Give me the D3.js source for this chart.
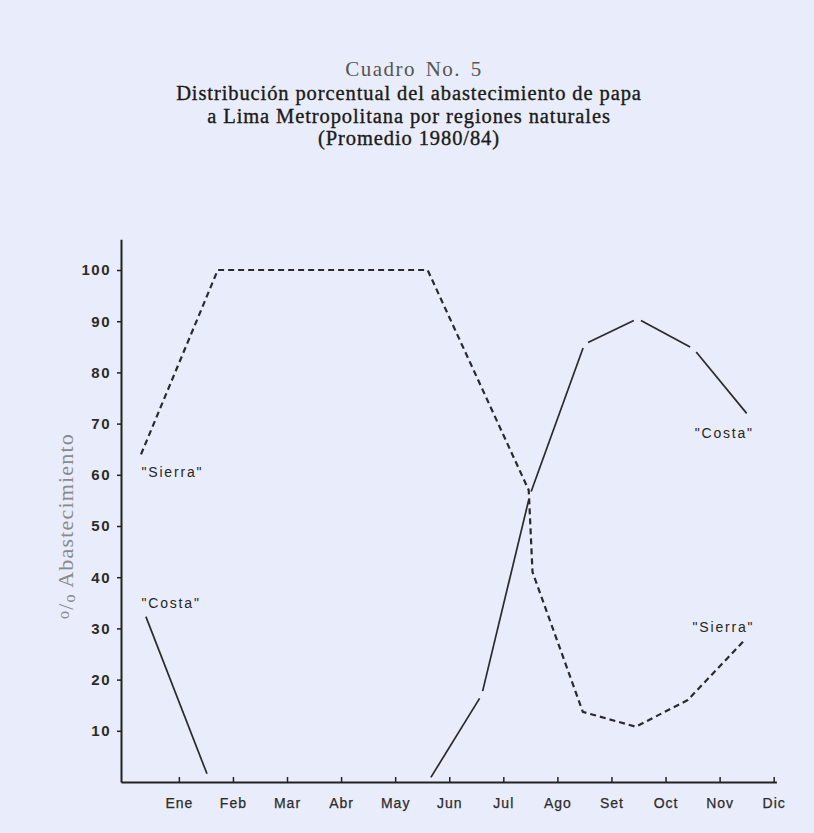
<!DOCTYPE html>
<html lang="es">
  <head>
    <meta charset="UTF-8" />
    <title>Cuadro No. 5</title>
    <script src="https://d3js.org/d3.v7.min.js"></script>
    <style>
      body { margin: 0; background: #e9ecfb; }
      svg { display: block; background: #e9ecfb; }
      .tick text { font-family: "Liberation Sans", Arial, sans-serif; fill: #2b2b2b; }
      .titulo { font-family: "Liberation Serif", "Times New Roman", serif; fill: #1a1a1a; }
      .nota { font-family: "Liberation Sans", Arial, sans-serif; font-size: 14px; fill: #262626; letter-spacing: 1.8px; }
    </style>
  </head>
  <body>
    <svg id="chart" width="814" height="833"></svg>
    <script>
      // month ticks
      const meses = ["Ene", "Feb", "Mar", "Abr", "May", "Jun", "Jul", "Ago", "Set", "Oct", "Nov", "Dic"];
      const yTicks = [10, 20, 30, 40, 50, 60, 70, 80, 90, 100];

      // "Sierra" (dashed): position in months (Ene tick = 1) and percent
      const sierraMes = [0.3, 1.72, 5.6, 7.47, 7.54, 8.47, 9.45, 10.41, 11.46];
      const sierraPct = [64, 100, 100, 57, 41, 13.7, 10.8, 16, 27.7];

      // "Costa" (solid, broken at vertices); null = no line drawn
      const costaMes = [0.39, 1.52, null, 5.66, 6.6, 7.49, 8.5, 9.48, 10.52, 11.5];
      const costaPct = [32.3, 1.6, null, 0.9, 17, 56, 85.5, 90.5, 84.6, 72];

      const notas = [
        { text: "\"Sierra\"", mes: 0.31, pct: 60.5 },
        { text: "\"Costa\"", mes: 0.31, pct: 35 },
        { text: "\"Costa\"", mes: 10.54, pct: 68.2 },
        { text: "\"Sierra\"", mes: 10.5, pct: 30.3 }
      ];

      const titulo = [
        "Distribución porcentual del abastecimiento de papa",
        "a Lima Metropolitana por regiones naturales",
        "(Promedio 1980/84)"
      ];

      const svg = d3.select("#chart");
      const x = d3.scaleLinear().domain([-0.07, 12.05]).range([121, 776.4]);
      const y = d3.scaleLinear().domain([0, 106]).range([782, 239.3]);

      // titles
      svg.append("text").attr("class", "titulo")
        .attr("x", 414).attr("y", 76)
        .attr("text-anchor", "middle")
        .style("font-size", "21px").style("fill", "#555").style("letter-spacing", "1.5px")
        .style("word-spacing", "3px")
        .text("Cuadro No. 5");
      svg.append("g").selectAll("text").data(titulo).join("text")
        .attr("class", "titulo")
        .attr("x", 409)
        .attr("y", (d, i) => 100 + i * 22.5)
        .attr("text-anchor", "middle")
        .style("font-size", "20.5px")
        .style("letter-spacing", "0.9px")
        .style("stroke", "#1a1a1a").style("stroke-width", 0.35)
        .text(d => d);

      // axes
      const yAxis = svg.append("g")
        .attr("transform", `translate(${x.range()[0]},0)`)
        .call(d3.axisLeft(y).tickValues(yTicks).tickSize(4).tickSizeOuter(0).tickPadding(6));
      yAxis.selectAll("text").style("font-size", "15px").style("letter-spacing", "1.5px").style("font-weight", "bold");

      const xAxis = svg.append("g")
        .attr("transform", `translate(0,${y(0)})`)
        .call(d3.axisBottom(x).tickValues(d3.range(1, 13)).tickFormat(d => meses[d - 1])
          .tickSizeInner(-5).tickSizeOuter(0).tickPadding(16));
      xAxis.selectAll("text").style("font-size", "14px").style("letter-spacing", "1px")
        .style("stroke", "#2b2b2b").style("stroke-width", 0.25);

      svg.selectAll(".domain").attr("stroke", "#222").attr("stroke-width", 2);
      svg.selectAll(".tick line").attr("stroke", "#222").attr("stroke-width", 1.5);

      // y label
      const ylab = svg.append("text").attr("class", "titulo")
        .attr("transform", "translate(73,526) rotate(-90)")
        .attr("text-anchor", "middle")
        .style("font-size", "22px").style("fill", "#8a8a8a").style("letter-spacing", "1.2px");
      ylab.append("tspan").attr("dy", -4).style("font-size", "16px").text("o");
      ylab.append("tspan").attr("dy", 4).text("/");
      ylab.append("tspan").attr("dy", 2).style("font-size", "16px").text("o");
      ylab.append("tspan").attr("dy", -2).text(" Abastecimiento");

      // Sierra dashed line
      const sierra = sierraMes.map((m, i) => [m, sierraPct[i]]);
      svg.append("path")
        .datum(sierra)
        .attr("fill", "none")
        .attr("stroke", "#2a2a2a")
        .attr("stroke-width", 2.2)
        .attr("stroke-dasharray", "6,4")
        .attr("d", d3.line().x(d => x(d[0])).y(d => y(d[1])));

      // Costa solid line, split into runs, small gap at each vertex
      const runs = [];
      let run = [];
      costaMes.forEach((m, i) => {
        if (m === null || costaPct[i] === null) {
          if (run.length) runs.push(run);
          run = [];
        } else {
          run.push([x(m), y(costaPct[i])]);
        }
      });
      if (run.length) runs.push(run);

      const gap = 4;
      const segs = [];
      runs.forEach(r => {
        for (let i = 0; i < r.length - 1; i++) {
          const a = r[i], b = r[i + 1];
          const len = Math.hypot(b[0] - a[0], b[1] - a[1]);
          const ux = (b[0] - a[0]) / len, uy = (b[1] - a[1]) / len;
          const s = i > 0 ? gap : 0;
          const e = i < r.length - 2 ? gap : 0;
          segs.push([a[0] + ux * s, a[1] + uy * s, b[0] - ux * e, b[1] - uy * e]);
        }
      });
      svg.append("g").selectAll("line").data(segs).join("line")
        .attr("x1", d => d[0]).attr("y1", d => d[1])
        .attr("x2", d => d[2]).attr("y2", d => d[3])
        .attr("stroke", "#2a2a2a")
        .attr("stroke-width", 1.7);

      // series notes
      svg.append("g").selectAll("text").data(notas).join("text")
        .attr("class", "nota")
        .attr("x", d => x(d.mes))
        .attr("y", d => y(d.pct))
        .attr("dominant-baseline", "central")
        .text(d => d.text);
    </script>
  </body>
</html>
